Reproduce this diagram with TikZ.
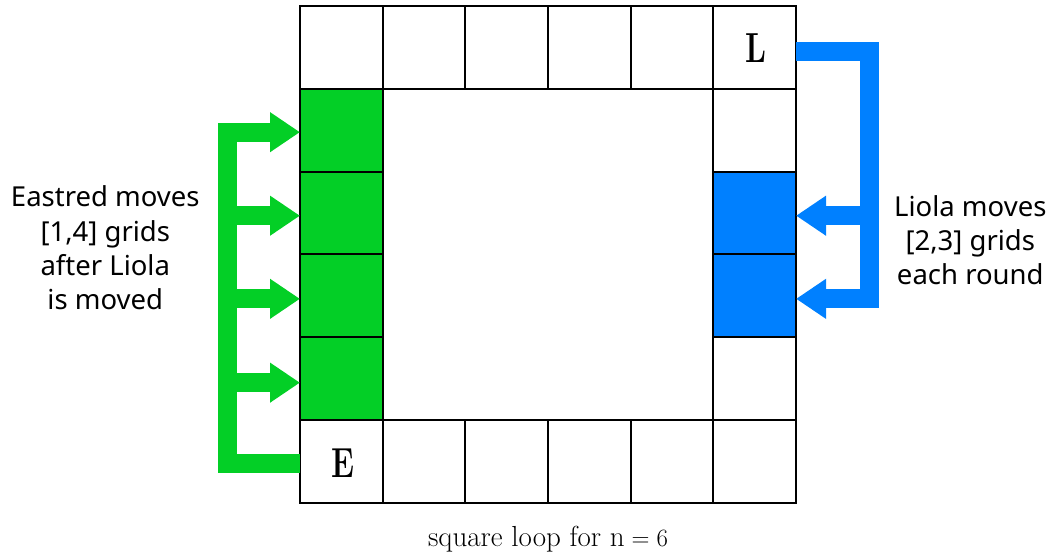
\documentclass[tikz,border=0pt]{standalone}
\usepackage{fontspec}
\newfontfamily\labelfont{Noto Sans}
\usetikzlibrary{arrows.meta}
\definecolor{egreen}{RGB}{3,207,38}
\definecolor{lblue}{RGB}{0,128,255}
\begin{document}
\begin{tikzpicture}[x=1pt,y=-1pt,
  cellbox/.style={draw=black, line width=2pt, minimum size=82.7pt, inner sep=0pt, outer sep=0pt, anchor=north west},
  bigletter/.style={font=\bfseries\fontsize{42}{42}\selectfont, xscale=0.74, inner sep=0pt},
  moveline/.style={line width=19pt, line join=miter, -{Triangle[length=30pt,width=38pt]}},
  sidelabel/.style={align=center, font=\labelfont\fontsize{27.5}{34.3}\selectfont, inner sep=0pt},
]
\useasboundingbox (0,0) rectangle (1055,553);
% cells
\foreach \i in {0,...,5}{
  \node[cellbox] (c-\i-0) at ({300+82.67*\i},6) {};
  \node[cellbox] (c-\i-5) at ({300+82.67*\i},{6+82.83*5}) {};
}
\foreach \j in {1,...,4}{
  \node[cellbox] (c-0-\j) at (300,{6+82.83*\j}) {};
  \node[cellbox] (c-5-\j) at ({300+82.67*5},{6+82.83*\j}) {};
}
\foreach \j in {1,...,4}{ \fill[egreen] (c-0-\j.north west) rectangle (c-0-\j.south east); }
\foreach \j in {2,3}{ \fill[lblue] (c-5-\j.north west) rectangle (c-5-\j.south east); }
\foreach \i in {0,...,5}{
  \draw[line width=2pt] (c-\i-0.north west) rectangle (c-\i-0.south east);
  \draw[line width=2pt] (c-\i-5.north west) rectangle (c-\i-5.south east);
}
\foreach \j in {1,...,4}{
  \draw[line width=2pt] (c-0-\j.north west) rectangle (c-0-\j.south east);
  \draw[line width=2pt] (c-5-\j.north west) rectangle (c-5-\j.south east);
}
% letters
\node[bigletter] (E) at ([xshift=1.5pt,yshift=-1.5pt]c-0-5.center) {E};
\node[bigletter] (L) at ([xshift=1.3pt,yshift=-1pt]c-5-0.center) {L};
% green arrows
\coordinate (gsp) at (227,0);
\coordinate (gs) at ([yshift=-1.5pt]c-0-5.west);
\coordinate (g1) at ([yshift=-2pt]c-0-1.west);
\coordinate (g2) at ([yshift=-2.7pt]c-0-2.west);
\coordinate (g3) at ([yshift=-3pt]c-0-3.west);
\coordinate (g4) at ([yshift=-4pt]c-0-4.west);
\draw[moveline, egreen] (gs) -- (gsp |- gs) |- (g1);
\foreach \k in {2,3,4}{ \draw[moveline, egreen] (gsp |- g\k) -- (g\k); }
% blue arrows
\coordinate (bsp) at (869,0);
\coordinate (bs) at ([yshift=-4pt]c-5-0.east);
\coordinate (b2) at ([yshift=-2.7pt]c-5-2.east);
\coordinate (b3) at ([yshift=-3pt]c-5-3.east);
\draw[moveline, lblue] (bs) -- (bsp |- bs) |- (b3);
\draw[moveline, lblue] (bsp |- b2) -- (b2);
% labels
\node[sidelabel] (lt) at (105.3,248) {Eastred moves\\{}[1,4] grids\\after Liola\\is moved};
\node[sidelabel] (rt) at (970.3,240) {Liola moves\\{}[2,3] grids\\each round};
\node[anchor=base, font=\fontsize{29}{34}\selectfont] (cap) at (548,546) {square loop for $\mathrm{n}=6$};
\end{tikzpicture}
\end{document}
